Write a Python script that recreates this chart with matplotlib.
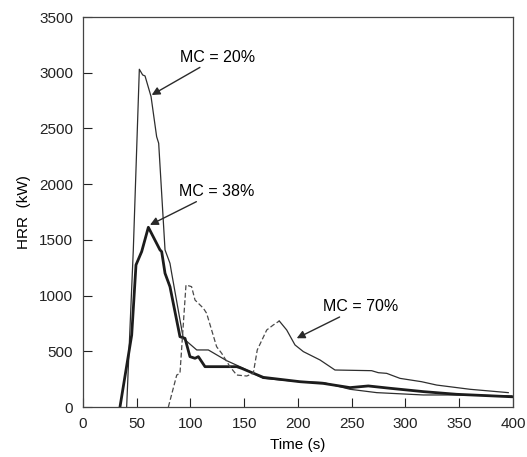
import matplotlib
matplotlib.use("Agg")
import matplotlib.pyplot as plt

plt.rcParams["font.family"] = ["Liberation Sans", "DejaVu Sans"]

# MC = 20% (thin solid)
t20 = [40.6, 46.8, 52.4, 55.5, 57.7, 63.3, 68.5, 70.4, 76.3, 80.9, 82.5, 93.3,
       105.8, 116.6, 133.6, 146, 158.4, 167.7, 201.9, 223.5, 248.4, 273.2,
       316.6, 347.6, 398.8]
v20 = [0, 1410, 3031, 2980, 2971, 2786, 2426, 2367, 1410, 1290, 1200, 616,
       512, 512, 416, 362, 302, 257, 227, 220, 159, 129, 108, 108, 99]

# MC = 38% (thick solid)
t38 = [34.4, 45.3, 49.3, 54.6, 60.8, 71.6, 73.2, 76.3, 80.9, 90.2, 94.9, 99.5,
       104.2, 107.3, 113.5, 143, 147.6, 167.7, 201.9, 223.5, 248.4, 265.4,
       285.6, 316.6, 347.6, 398.8]
v38 = [0, 646, 1275, 1395, 1613, 1410, 1394, 1200, 1080, 631, 616, 452,
       437, 452, 362, 362, 347, 266, 227, 212, 174, 189, 168, 138, 114, 92]

# MC = 70% (dashed rise, thin solid decay)
t70a = [79.4, 87.2, 90.2, 95.8, 101.0, 104.2, 112.0, 115.0, 124.3, 129.0,
        136.7, 143.0, 152.3, 158.4, 162.1, 170.9, 177.0, 182.6]
v70a = [0, 287, 302, 1095, 1080, 960, 886, 841, 541, 482, 362, 287, 278,
        302, 512, 691, 736, 772]
t70b = [182.6, 189.5, 197.2, 205.0, 220.5, 234.4, 268.5, 274.7, 282.5, 294.9,
        315.0, 329.0, 360.0, 395.6]
v70b = [772, 691, 557, 497, 422, 332, 326, 308, 302, 257, 227, 197, 159, 129]

labels = ["MC = 20%", "MC = 38%", "MC = 70%"]

fig = plt.figure(figsize=(5.27, 4.57), dpi=100)
ax = fig.add_axes([0.1575, 0.1094, 0.8159, 0.8534])

ax.plot(t20, v20, color="#2e2e2e", lw=0.9)
ax.plot(t38, v38, color="#1c1c1c", lw=2.0)
ax.plot(t70a, v70a, color="#4a4a4a", lw=0.9, ls=(0, (4, 2)))
ax.plot(t70b, v70b, color="#2e2e2e", lw=0.9)

arrow = dict(arrowstyle="-|>", color="#2a2a2a", lw=1.0, mutation_scale=12,
             shrinkA=0, shrinkB=0)
ax.annotate(labels[0], xy=(63.9, 2800), xytext=(90.5, 3140), fontsize=11.5,
            va="center", ha="left", arrowprops=arrow)
ax.annotate(labels[1], xy=(62.3, 1634), xytext=(89.5, 1935), fontsize=11.5,
            va="center", ha="left", arrowprops=arrow)
ax.annotate(labels[2], xy=(198.8, 617), xytext=(223.0, 900), fontsize=11.5,
            va="center", ha="left", arrowprops=arrow)

ax.set_xlim(0, 400)
ax.set_ylim(0, 3500)
ax.set_xticks(range(0, 401, 50))
ax.set_yticks(range(0, 3501, 500))
ax.tick_params(direction="in", length=6.5, width=0.8, pad=7, labelsize=11,
               colors="#222222")
for s in ax.spines.values():
    s.set_color("#444444")
    s.set_linewidth(0.9)

ax.set_xlabel("Time (s)", fontsize=11, labelpad=5)
ax.set_ylabel("HRR  (kW)", fontsize=11, labelpad=6)

fig.savefig("out.png", dpi=100)
